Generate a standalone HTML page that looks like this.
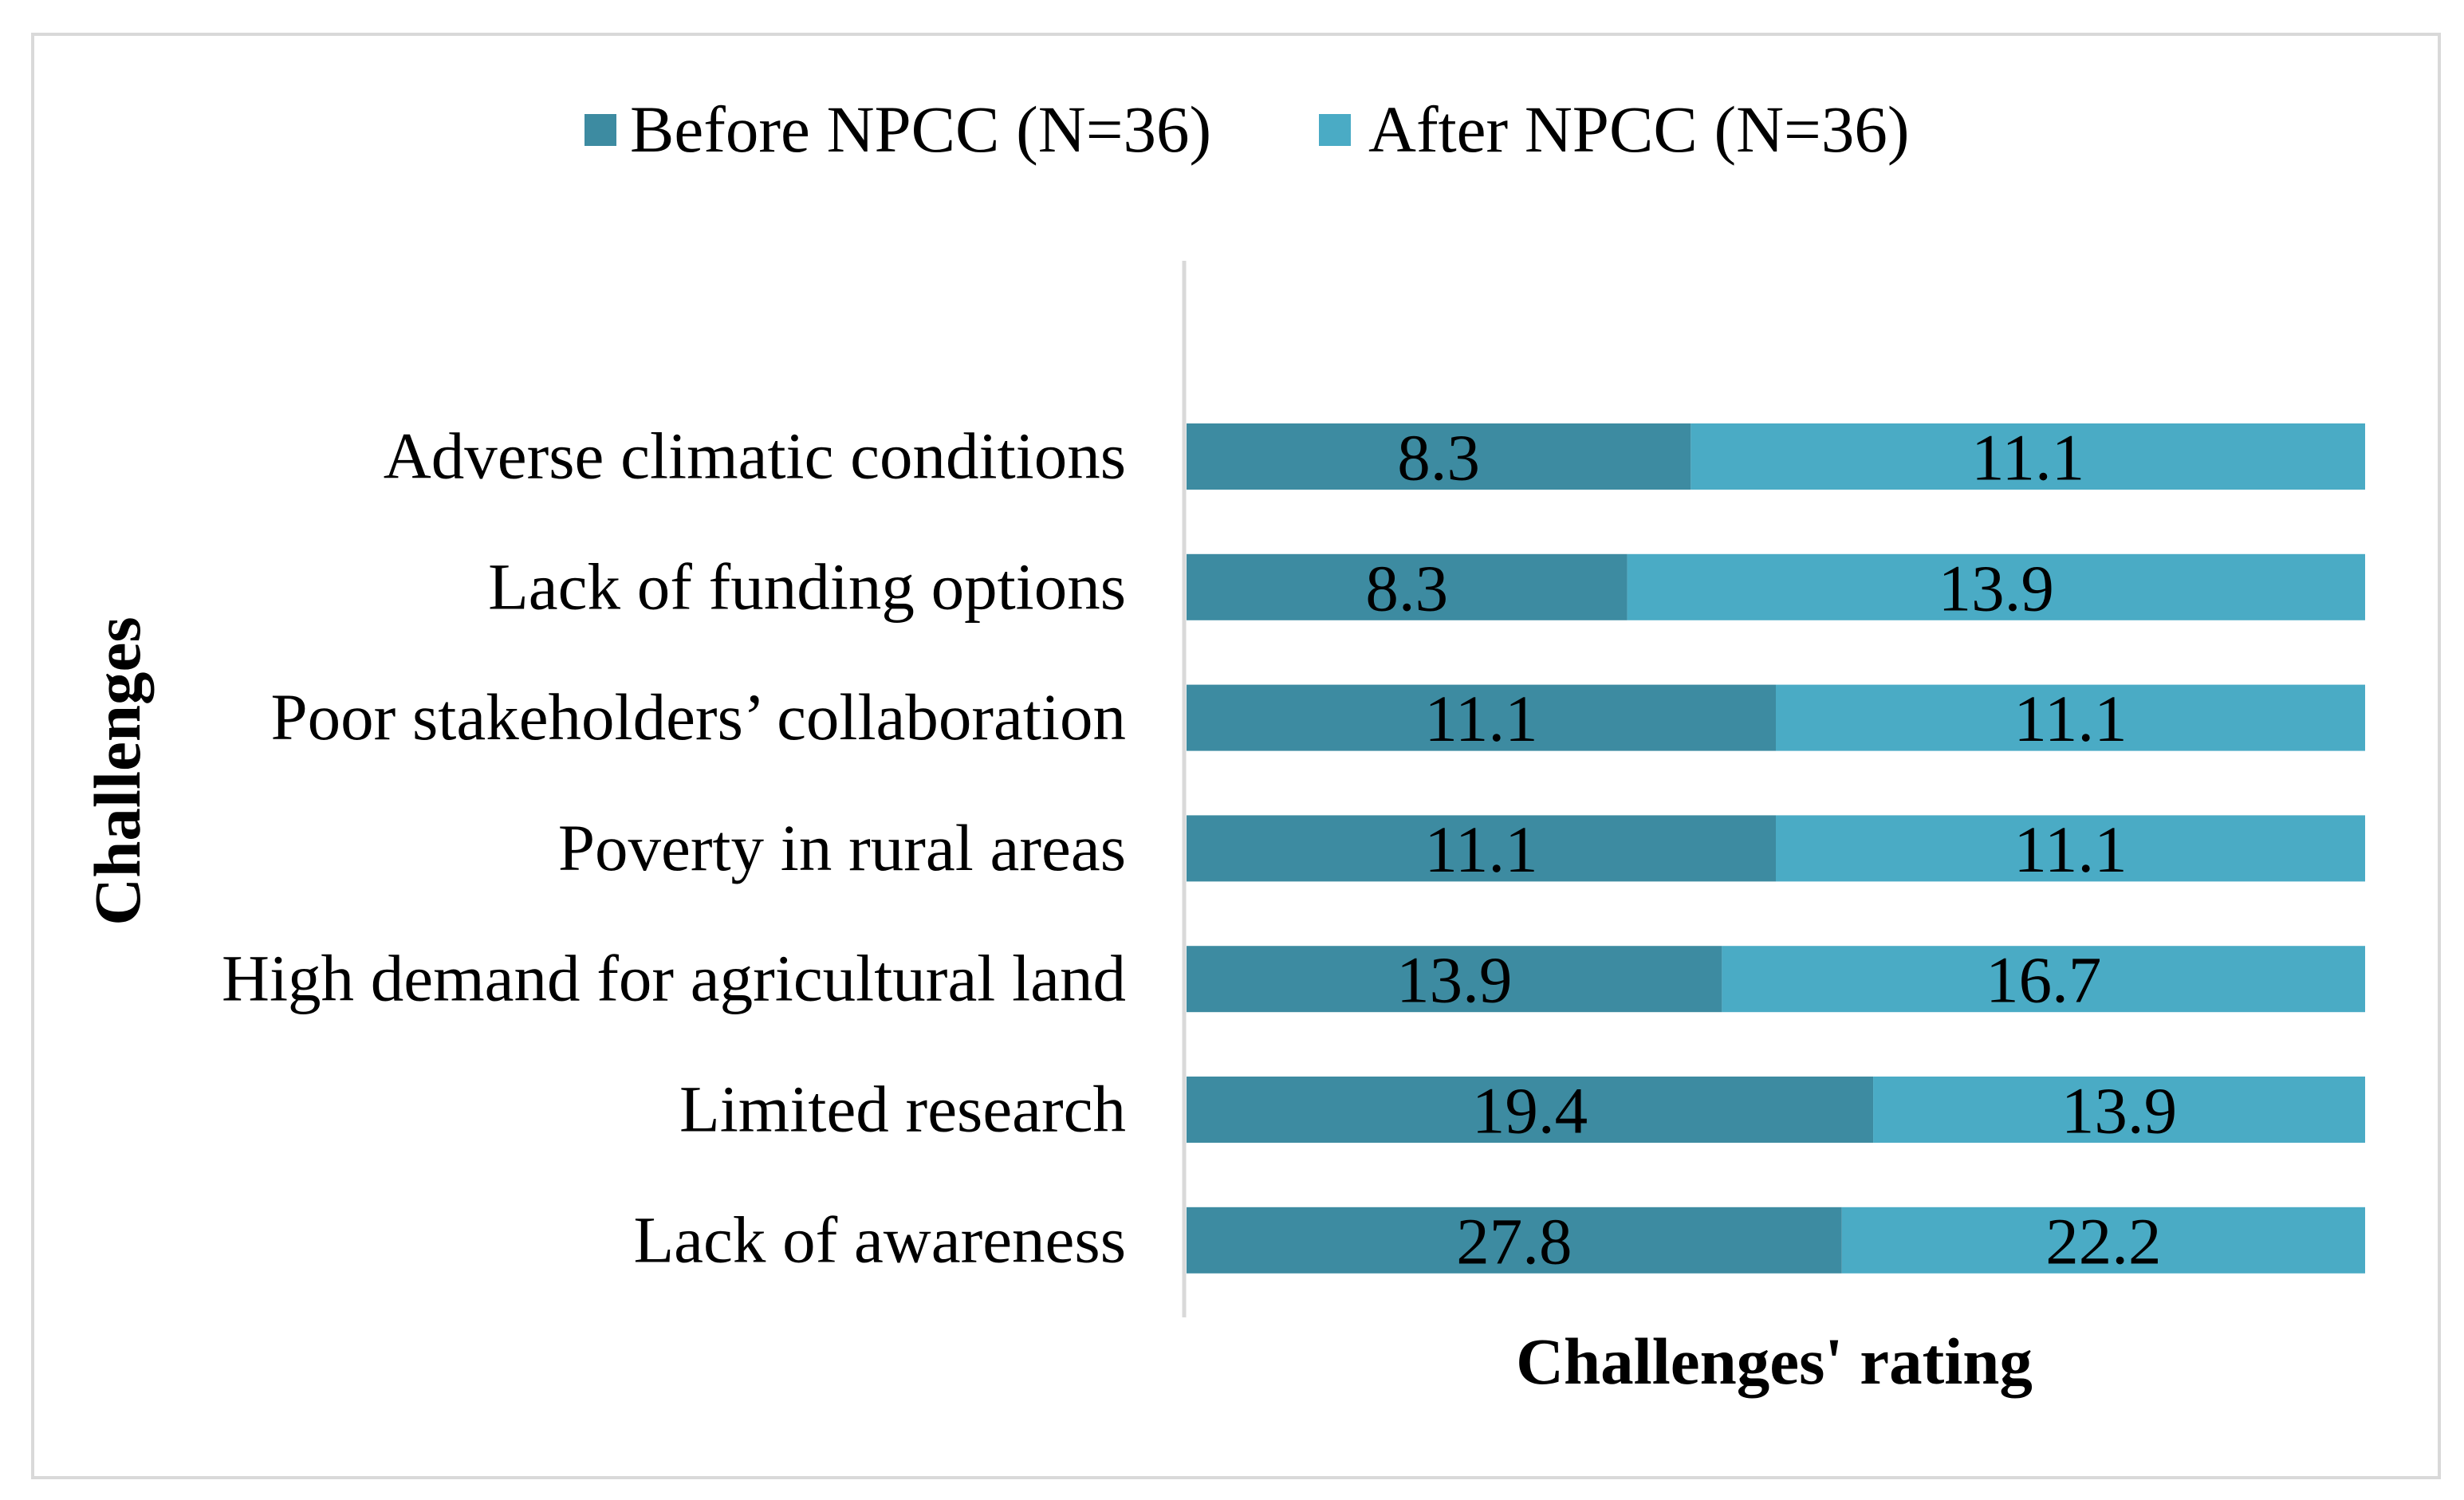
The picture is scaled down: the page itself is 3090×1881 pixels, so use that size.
<!DOCTYPE html>
<html><head><meta charset="utf-8"><style>
body{margin:0;background:#fff}
svg text{font-family:"Liberation Serif",serif;fill:#000}
</style></head><body>
<svg width="3090" height="1876" viewBox="0 0 3090 1876" xmlns="http://www.w3.org/2000/svg">
<rect x="41" y="43" width="3018" height="1810" fill="#fff" stroke="#d9d9d9" stroke-width="4"/>
<g>
<rect x="733" y="143" width="40" height="40" fill="#3d8ba1"/>
<text x="790" y="190" font-size="83">Before NPCC (N=36)</text>
<rect x="1654" y="143" width="40" height="40" fill="#4aabc5"/>
<text x="1716" y="190" font-size="83">After NPCC (N=36)</text>
</g>
<line x1="1485" y1="327" x2="1485" y2="1652" stroke="#d9d9d9" stroke-width="5"/>
<g id="bars"></g>
<text x="2225" y="1735" font-size="83" font-weight="bold" text-anchor="middle">Challenges' rating</text>
<text transform="translate(175,967) rotate(-90)" font-size="83" font-weight="bold" text-anchor="middle">Challenges</text>
</svg>
<script>
const categories=["Adverse climatic conditions","Lack of funding options","Poor stakeholders’ collaboration","Poverty in rural areas","High demand for agricultural land","Limited research","Lack of awareness"];
const before=[8.3,8.3,11.1,11.1,13.9,19.4,27.8];
const after=[11.1,13.9,11.1,11.1,16.7,13.9,22.2];
const NS="http://www.w3.org/2000/svg";
const g=document.getElementById('bars');
const x0=1488,x1=2966,top0=531,pitch=163.8,bh=83;
const xs=f=>x0+f*(x1-x0);
const yb=i=>top0+i*pitch;
function mk(t,a){const e=document.createElementNS(NS,t);for(const k in a)e.setAttribute(k,a[k]);g.appendChild(e);return e;}
categories.forEach((c,i)=>{
  const tot=before[i]+after[i];
  const xm=xs(before[i]/tot);
  const y=yb(i);
  const r1=mk('rect',{x:x0,y:y,width:xm-x0,height:bh,fill:'#3d8ba1'});
  
  
  const r2=mk('rect',{x:xm,y:y,width:x1-xm,height:bh,fill:'#4aabc5'});
  
  
  const t1=mk('text',{x:(x0+xm)/2,y:y+bh/2+29,'font-size':83,'text-anchor':'middle'});
  t1.textContent=before[i].toFixed(1);
  
  
  const t2=mk('text',{x:(xm+x1)/2,y:y+bh/2+29,'font-size':83,'text-anchor':'middle'});
  t2.textContent=after[i].toFixed(1);
  
  
  const tl=mk('text',{x:1412,y:y+bh/2+27,'font-size':83,'text-anchor':'end'});
  tl.textContent=c;
  
  
});
</script>
</body></html>
